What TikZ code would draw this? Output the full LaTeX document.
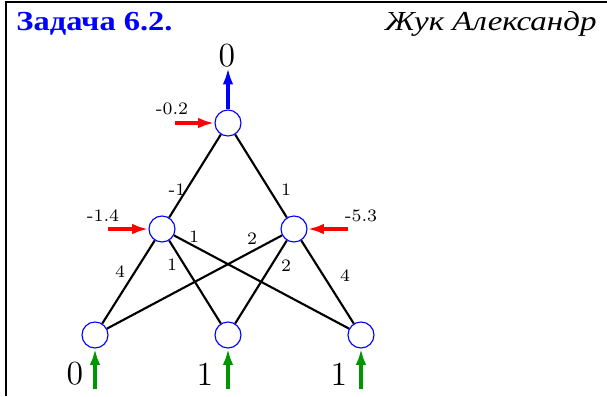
\documentclass[tikz,border=0pt]{standalone}
\usepackage{fontspec}
\newfontfamily\cyrfont{Liberation Serif}
\newfontfamily\titlefont[FakeStretch=1.18]{Liberation Serif}
\newfontfamily\authorfont[FakeStretch=1.2]{Liberation Serif}
\usetikzlibrary{arrows.meta}
\definecolor{inblue}{RGB}{0,0,255}
\definecolor{ingreen}{RGB}{0,150,0}
\definecolor{inred}{RGB}{255,0,0}
\begin{document}
\begin{tikzpicture}[x=0.4pt,y=-0.4pt,
  neuron/.style={circle,draw=inblue,line width=0.45pt,minimum size=10.4pt,inner sep=0pt,fill=white},
  wire/.style={line width=0.85pt,black},
  biasarrow/.style={line width=1.3pt,draw=inred,-{Latex[length=6.5pt,width=4.2pt]}},
  inarrow/.style={line width=1.3pt,draw=ingreen,-{Latex[length=6.5pt,width=4.2pt]}},
  outarrow/.style={line width=1.3pt,draw=inblue,-{Latex[length=6.5pt,width=4.2pt]}},
  small/.style={font=\fontsize{7}{8}\selectfont,inner sep=0pt},
  big/.style={font=\fontsize{13.5}{15}\selectfont,inner sep=0pt},
  frameline/.style={line width=0.8pt,black}]
\useasboundingbox (0,0) rectangle (607,396);
% frame
\coordinate (fl) at (6,396);
\coordinate (ft) at (6,2);
\coordinate (fr) at (607,2);
\draw[frameline] (fl) -- (ft) -- (fr);
% title
\node[anchor=base west,inner sep=0pt,text=inblue,font=\titlefont\fontsize{11}{12}\bfseries\selectfont] (title) at (16,30) {Задача 6.2.};
\node[anchor=base east,inner sep=0pt,font=\authorfont\fontsize{11}{12}\itshape\selectfont] (author) at (597,30) {Жук Александр};
% neurons
\node[neuron] (o) at (228,123) {};
\node[neuron] (h1) at (162,229) {};
\node[neuron] (h2) at (294,229) {};
\node[neuron] (x1) at (95,335) {};
\node[neuron] (x2) at (228,335) {};
\node[neuron] (x3) at (361,335) {};
% connections
\draw[wire] (h1) -- (o);
\draw[wire] (h2) -- (o);
\draw[wire] (x1) -- (h1);
\draw[wire] (x2) -- (h1);
\draw[wire] (x3) -- (h1);
\draw[wire] (x1) -- (h2);
\draw[wire] (x2) -- (h2);
\draw[wire] (x3) -- (h2);
% output
\coordinate (otip) at (228,68);
\draw[outarrow] (o) -- (otip);
\node[big] (oval) at (227,56) {0};
% biases
\coordinate (b0) at (175,123);
\coordinate (b1) at (108,229);
\coordinate (b2) at (348,229);
\draw[biasarrow] (b0) -- (o);
\draw[biasarrow] (b1) -- (h1);
\draw[biasarrow] (b2) -- (h2);
\node[small] (lb0) at (172,109) {-0.2};
\node[small] (lb1) at (103,216) {-1.4};
\node[small] (lb2) at (361,216) {-5.3};
% inputs
\coordinate (i1) at (95,389);
\coordinate (i2) at (228,389);
\coordinate (i3) at (361,389);
\draw[inarrow] (i1) -- (x1);
\draw[inarrow] (i2) -- (x2);
\draw[inarrow] (i3) -- (x3);
\node[big] (v1) at (75,374) {0};
\node[big] (v2) at (205,374) {1};
\node[big] (v3) at (339,374) {1};
% weights
\node[small] (w1) at (177,190) {-1};
\node[small] (w2) at (286,190) {1};
\node[small] (w3) at (194,237) {1};
\node[small] (w4) at (252,239) {2};
\node[small] (w5) at (120,272) {4};
\node[small] (w6) at (172,265) {1};
\node[small] (w7) at (286,266) {2};
\node[small] (w8) at (345,276) {4};
\end{tikzpicture}
\end{document}
